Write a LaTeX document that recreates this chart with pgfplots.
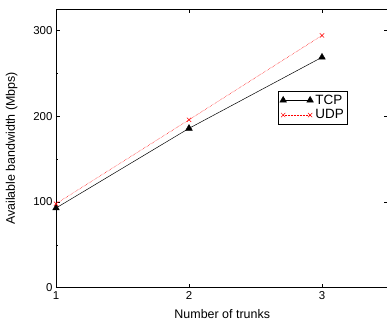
\documentclass[border=0pt]{standalone}
\usepackage{pgfplots}
\pgfplotsset{compat=1.18}
\usepackage{fontspec}
\setmainfont{Liberation Sans}
\begin{document}
\begin{tikzpicture}
\begin{axis}[
  name=ax,
  scale only axis,
  width=332.5bp, height=278.4bp,
  xmin=1, xmax=3.5, ymin=0, ymax=325,
  xtick={1,2,3}, ytick={0,100,200,300},
  minor ytick={50,150,250},
  tick pos=both, tick align=inside,
  major tick length=4bp, minor tick length=2bp,
  every tick/.style={black, line width=0.5pt},
  axis line style={line width=0.7pt},
  /pgf/number format/assume math mode=true,
  ticklabel style={font=\fontsize{11.5}{13}\selectfont},
  xlabel={Number of trunks}, ylabel={Available bandwidth (Mbps)},
  label style={font=\fontsize{12.5}{14}\selectfont},
  xlabel style={yshift=-3bp},
  ylabel style={yshift=9bp},
  legend style={at={(0.668,0.7065)}, anchor=north west, draw=black, line width=0.6pt,
    font=\fontsize{13.5}{15}\selectfont, inner sep=1.5pt, row sep=0pt},
  legend cell align=left,
  legend image code/.code={\draw plot coordinates {(0cm,0cm) (0.95cm,0cm)};},
]
\addplot[black, line width=0.5pt, mark=triangle*, mark size=3.8pt, mark options={solid}]
  coordinates {(1,93) (2,186) (3,269)};
\addlegendentry{TCP}
\addplot[red, densely dotted, line width=0.5pt, mark=x, mark size=3pt, mark options={solid}]
  coordinates {(1,98) (2,196) (3,294.5)};
\addlegendentry{UDP}
\end{axis}
\pgfresetboundingbox
\path[use as bounding box] ([xshift=-56bp,yshift=-34.3bp]ax.south west) rectangle ([xshift=-1.5bp,yshift=9.3bp]ax.north east);
\end{tikzpicture}
\end{document}
